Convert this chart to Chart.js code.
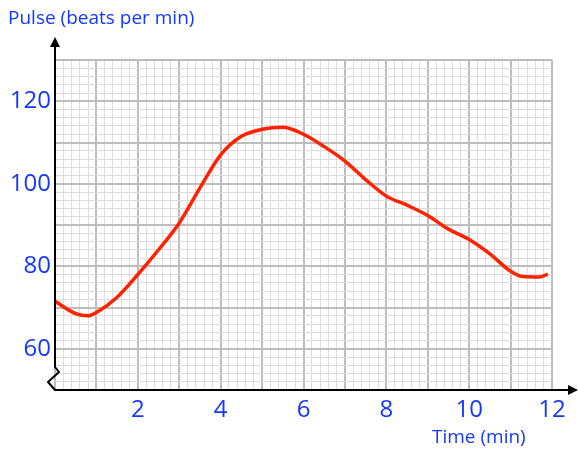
<!DOCTYPE html>
<html>
<head>
<meta charset="utf-8">
<script src="https://cdn.jsdelivr.net/npm/chart.js@4.4.1/dist/chart.umd.min.js"></script>
<style>
  html, body { margin: 0; padding: 0; background: #fff; }
  #wrap { width: 578px; height: 450px; }
</style>
</head>
<body>
<div id="wrap"><canvas id="pulseChart" width="578" height="450"></canvas></div>
<script>
// time in minutes, pulse in beats per min
const times = [0, 0.5, 0.8, 1, 1.5, 2, 2.5, 3, 3.5, 4, 4.5, 5, 5.5, 6, 6.5, 7, 7.5, 8, 8.5, 9, 9.5, 10, 10.5, 11, 11.3, 11.7, 11.9];
const pulse = [71.5, 68.5, 68, 68.8, 72.5, 78, 84, 90.5, 99, 107, 111.5, 113.2, 113.7, 112, 109, 105.5, 101, 97, 94.8, 92.3, 89, 86.5, 83, 78.8, 77.5, 77.4, 78.1];
const xLabels = [2, 4, 6, 8, 10, 12];
const yLabels = [60, 80, 100, 120];

const BLUE = "#1438ff";
const FONT = "'Open Sans', sans-serif";

const near = (v, n) => Math.abs(v - Math.round(v / n) * n) < 1e-6;

const axesPlugin = {
	id: 'axesPlugin',
	afterDatasetsDraw(chart) {
		const ctx = chart.ctx;
		const a = chart.chartArea;
		ctx.save();
		ctx.strokeStyle = "#000";
		ctx.fillStyle = "#000";
		ctx.lineWidth = 2;
		ctx.lineJoin = 'round';
		// y axis with the little break, then x axis
		ctx.beginPath();
		ctx.moveTo(a.left, 44);
		ctx.lineTo(a.left, a.bottom - 23);
		ctx.lineTo(a.left + 4, a.bottom - 18);
		ctx.lineTo(a.left - 7, a.bottom - 8);
		ctx.lineTo(a.left, a.bottom);
		ctx.lineTo(572, a.bottom);
		ctx.stroke();
		// arrow heads
		ctx.beginPath();
		ctx.moveTo(a.left, 37);
		ctx.lineTo(a.left - 5, 47);
		ctx.lineTo(a.left + 5, 47);
		ctx.closePath();
		ctx.fill();
		ctx.beginPath();
		ctx.moveTo(578, a.bottom);
		ctx.lineTo(568, a.bottom - 5);
		ctx.lineTo(568, a.bottom + 5);
		ctx.closePath();
		ctx.fill();
		ctx.restore();
	},
	afterDraw(chart) {
		const ctx = chart.ctx;
		ctx.save();
		ctx.fillStyle = BLUE;
		ctx.textBaseline = 'alphabetic';
		ctx.font = "19px " + FONT;
		ctx.fillText("Pulse (beats per min)", 8, 24);
		ctx.fillText("Time (min)", 432, 443);
		ctx.restore();
	}
};

let pulseChart = new Chart(document.getElementById("pulseChart"), {
	type: 'line',
	data: {
		datasets: [{
			label: "Pulse",
			data: times.map((t, i) => ({ x: t, y: pulse[i] })),
			borderColor: "#ff2200",
			borderWidth: 3.5,
			pointRadius: 0,
			fill: false,
			cubicInterpolationMode: 'monotone',
			tension: 0.4
		}]
	},
	options: {
		responsive: false,
		animation: false,
		layout: { padding: { top: 60, right: 26, left: 0, bottom: 0 } },
		plugins: { legend: { display: false }, tooltip: { enabled: false } },
		scales: {
			x: {
				type: 'linear',
				min: 0,
				max: 12,
				afterFit: s => { s.height = 60; },
				border: { display: false },
				grid: {
					drawTicks: false,
					color: c => near(c.tick.value, 1) ? "#bdbdbd" : "#dcdcdc",
					lineWidth: c => near(c.tick.value, 1) ? 2 : 1
				},
				ticks: {
					stepSize: 0.2,
					maxTicksLimit: 100,
					autoSkip: false,
					maxRotation: 0,
					padding: 6,
					color: BLUE,
					font: { family: FONT, size: 24 },
					callback: v => xLabels.find(l => Math.abs(l - v) < 1e-6) !== undefined ? Math.round(v) : ''
				}
			},
			y: {
				min: 50,
				max: 130,
				afterFit: s => { s.width = 55; },
				border: { display: false },
				grid: {
					drawTicks: false,
					color: c => near(c.tick.value, 10) ? "#bdbdbd" : "#dcdcdc",
					lineWidth: c => near(c.tick.value, 10) ? 2 : 1
				},
				ticks: {
					stepSize: 2,
					maxTicksLimit: 100,
					autoSkip: false,
					padding: 4,
					color: BLUE,
					font: { family: FONT, size: 24 },
					callback: v => yLabels.includes(Math.round(v)) && near(v, 1) ? Math.round(v) : ''
				}
			}
		}
	},
	plugins: [axesPlugin]
});
</script>
</body>
</html>
